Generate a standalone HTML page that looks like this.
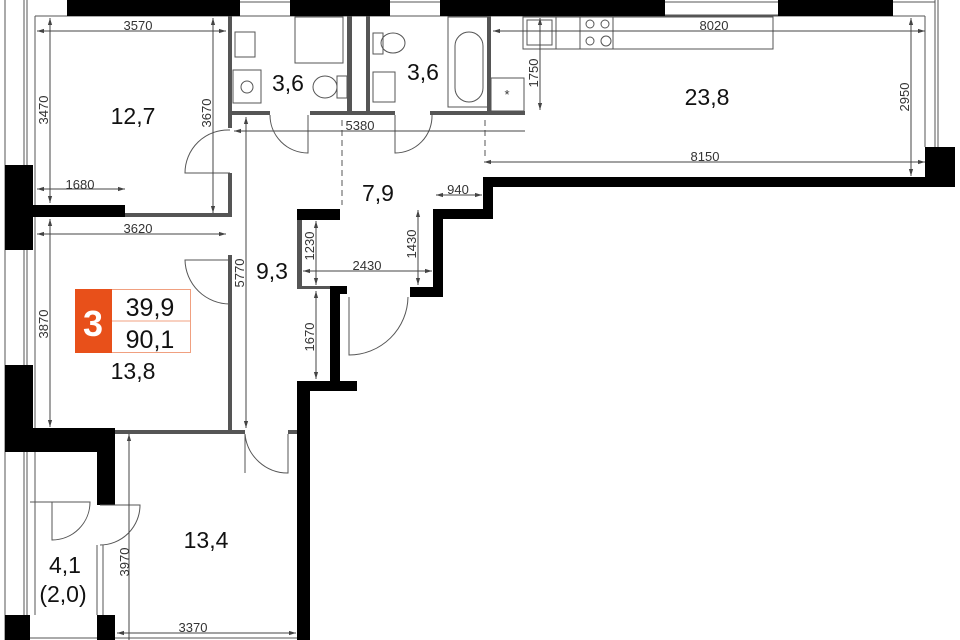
<!DOCTYPE html>
<html><head><meta charset="utf-8"><style>
html,body{margin:0;padding:0;background:#fff;width:960px;height:640px;overflow:hidden}
svg{display:block}
.d{font-family:"Liberation Sans",sans-serif;font-size:13px;fill:#333}
.r{font-family:"Liberation Sans",sans-serif;font-size:23px;fill:#111}
.dl{stroke:#444;stroke-width:1;fill:none}
.t{stroke:#555;stroke-width:1;fill:none}
</style></head><body>
<svg width="960" height="640" viewBox="0 0 960 640" xmlns="http://www.w3.org/2000/svg">
<defs>
<marker id="a" viewBox="0 0 10 10" refX="10" refY="5" markerWidth="7" markerHeight="7" orient="auto-start-reverse"><path d="M0,2L10,5L0,8z" fill="#444"/></marker>
</defs>
<g class="t">
<line x1="5" y1="0" x2="5" y2="640"/><line x1="24" y1="0" x2="24" y2="640"/><line x1="27" y1="0" x2="27" y2="640"/>
<line x1="35" y1="16" x2="35" y2="205"/><line x1="35" y1="217" x2="35" y2="428"/>
<line x1="240" y1="2" x2="290" y2="2"/><line x1="390" y1="2" x2="440" y2="2"/>
<line x1="665" y1="2" x2="778" y2="2"/><line x1="665" y1="15" x2="778" y2="15"/>
<line x1="893" y1="2" x2="935" y2="2"/>
<line x1="35" y1="16" x2="925" y2="16"/>
<line x1="925" y1="16" x2="925" y2="147"/><line x1="935" y1="0" x2="935" y2="147"/><line x1="938" y1="0" x2="938" y2="147"/>
<line x1="35" y1="452" x2="35" y2="615"/><line x1="27" y1="452" x2="27" y2="615"/>
<line x1="97" y1="545" x2="97" y2="615"/><line x1="103" y1="545" x2="103" y2="615"/>
<line x1="5" y1="638" x2="300" y2="638"/>
</g>
<g fill="#000">
<rect x="67" y="0" width="173" height="16"/>
<rect x="290" y="0" width="100" height="16"/>
<rect x="440" y="0" width="225" height="16"/>
<rect x="778" y="0" width="115" height="16"/>
<rect x="5" y="165" width="28" height="85"/>
<rect x="5" y="205" width="120" height="12"/>
<rect x="5" y="365" width="28" height="87"/>
<rect x="5" y="428" width="110" height="24"/>
<rect x="97" y="428" width="18" height="77"/>
<rect x="5" y="615" width="25" height="25"/>
<rect x="97" y="615" width="18" height="25"/>
<rect x="925" y="147" width="30" height="40"/>
<rect x="485" y="177" width="470" height="10"/>
<rect x="483" y="177" width="10" height="42"/>
<rect x="433" y="209" width="60" height="10"/>
<rect x="433" y="209" width="10" height="88"/>
<rect x="410" y="287" width="33" height="10"/>
<rect x="297" y="209" width="43" height="11"/>
<rect x="330" y="286" width="17" height="8"/>
<rect x="330" y="286" width="10" height="97"/>
<rect x="297" y="381" width="60" height="10"/>
<rect x="297" y="381" width="13" height="259"/>
</g>
<g fill="#555">
<rect x="228" y="16" width="4" height="112"/>
<rect x="228" y="173" width="4" height="44"/>
<rect x="228" y="255" width="4" height="177"/>
<rect x="125" y="213" width="107" height="4"/>
<rect x="115" y="430" width="130" height="4"/>
<rect x="288" y="430" width="9" height="4"/>
<rect x="232" y="111" width="38" height="4"/>
<rect x="310" y="111" width="85" height="4"/>
<rect x="430" y="111" width="95" height="4"/>
<rect x="347" y="16" width="5" height="95"/>
<rect x="366" y="16" width="4" height="95"/>
<rect x="297" y="220" width="5" height="69"/>
<rect x="297" y="286" width="33" height="3"/>
<rect x="487" y="16" width="4" height="95"/>
</g>
<g class="t">
<path d="M230,130 A43,43 0 0 0 185,173 L230,173"/>
<path d="M230,304 A45,45 0 0 1 185,260 L230,260"/>
<path d="M270,115 A38,38 0 0 0 308,153 L308,115"/>
<path d="M395,115 L395,153 A37,37 0 0 0 432,115"/>
<path d="M245,434 L245,473 M288,434 L288,473 A43,43 0 0 1 245,434"/>
<path d="M349,297 L349,355 A59,59 0 0 0 408,297"/>
<path d="M52,502 L52,540 A38,38 0 0 0 90,502 L30,502"/>
<path d="M100,505 L140,505 A40,40 0 0 1 100,545"/>
<line x1="342" y1="120" x2="342" y2="205" stroke-dasharray="6,4"/>
<line x1="485" y1="120" x2="485" y2="160" stroke-dasharray="6,4"/>
<rect x="235" y="32" width="20" height="25"/><rect x="233" y="70" width="28" height="33"/><circle cx="247" cy="87" r="6"/>
<rect x="295" y="17" width="48" height="46"/>
<ellipse cx="325" cy="87" rx="12" ry="11"/><rect x="337" y="76" width="10" height="22"/>
<ellipse cx="393" cy="43" rx="12" ry="10"/><rect x="373" y="33" width="10" height="21"/>
<rect x="373" y="72" width="22" height="30"/>
<rect x="448" y="17" width="40" height="90"/><rect x="455" y="32" width="28" height="70" rx="14"/>
<rect x="523" y="17" width="250" height="32"/>
<line x1="556" y1="17" x2="556" y2="49"/><line x1="580" y1="17" x2="580" y2="49"/><line x1="613" y1="17" x2="613" y2="49"/>
<rect x="527" y="20" width="25" height="25"/>
<circle cx="590" cy="24" r="4"/><circle cx="605" cy="24" r="4"/><circle cx="590" cy="41" r="4"/><circle cx="606" cy="41" r="5"/>
<rect x="491" y="78" width="33" height="33"/>
</g>
<text x="507" y="99" class="d" text-anchor="middle">*</text>
<g class="dl">
<line x1="37" y1="31" x2="226" y2="31" marker-start="url(#a)" marker-end="url(#a)"/>
<line x1="50" y1="18" x2="50" y2="203" marker-start="url(#a)" marker-end="url(#a)"/>
<line x1="37" y1="189" x2="125" y2="189" marker-start="url(#a)" marker-end="url(#a)"/>
<line x1="213" y1="18" x2="213" y2="213" marker-start="url(#a)" marker-end="url(#a)"/>
<line x1="37" y1="234" x2="226" y2="234" marker-start="url(#a)" marker-end="url(#a)"/>
<line x1="50" y1="219" x2="50" y2="427" marker-start="url(#a)" marker-end="url(#a)"/>
<line x1="246" y1="117" x2="246" y2="428" marker-start="url(#a)" marker-end="url(#a)"/>
<line x1="234" y1="131" x2="525" y2="131" marker-start="url(#a)"/>
<line x1="493" y1="31" x2="925" y2="31" marker-start="url(#a)" marker-end="url(#a)"/>
<line x1="540" y1="18" x2="540" y2="110" marker-start="url(#a)" marker-end="url(#a)"/>
<line x1="911" y1="18" x2="911" y2="176" marker-start="url(#a)" marker-end="url(#a)"/>
<line x1="484" y1="162" x2="925" y2="162" marker-start="url(#a)" marker-end="url(#a)"/>
<line x1="436" y1="195" x2="482" y2="195" marker-start="url(#a)" marker-end="url(#a)"/>
<line x1="316" y1="221" x2="316" y2="285" marker-start="url(#a)" marker-end="url(#a)"/>
<line x1="418" y1="210" x2="418" y2="285" marker-start="url(#a)" marker-end="url(#a)"/>
<line x1="303" y1="271" x2="432" y2="271" marker-start="url(#a)" marker-end="url(#a)"/>
<line x1="316" y1="291" x2="316" y2="379" marker-start="url(#a)" marker-end="url(#a)"/>
<line x1="129" y1="434" x2="129" y2="640" marker-start="url(#a)"/>
<line x1="117" y1="633" x2="296" y2="633" marker-start="url(#a)" marker-end="url(#a)"/>
</g>
<g class="d">
<text x="138" y="30" text-anchor="middle">3570</text>
<text x="80" y="189" text-anchor="middle">1680</text>
<text x="138" y="233" text-anchor="middle">3620</text>
<text x="360" y="130" text-anchor="middle">5380</text>
<text x="714" y="30" text-anchor="middle">8020</text>
<text x="705" y="161" text-anchor="middle">8150</text>
<text x="458" y="194" text-anchor="middle">940</text>
<text x="367" y="270" text-anchor="middle">2430</text>
<text x="193" y="632" text-anchor="middle">3370</text>
<text transform="translate(48,110) rotate(-90)" text-anchor="middle">3470</text>
<text transform="translate(211,113) rotate(-90)" text-anchor="middle">3670</text>
<text transform="translate(48,324) rotate(-90)" text-anchor="middle">3870</text>
<text transform="translate(244,273) rotate(-90)" text-anchor="middle">5770</text>
<text transform="translate(538,73) rotate(-90)" text-anchor="middle">1750</text>
<text transform="translate(909,97) rotate(-90)" text-anchor="middle">2950</text>
<text transform="translate(314,246) rotate(-90)" text-anchor="middle">1230</text>
<text transform="translate(416,244) rotate(-90)" text-anchor="middle">1430</text>
<text transform="translate(314,337) rotate(-90)" text-anchor="middle">1670</text>
<text transform="translate(129,562) rotate(-90)" text-anchor="middle">3970</text>
</g>
<g class="r" text-anchor="middle">
<text x="133" y="124">12,7</text>
<text x="288" y="91">3,6</text>
<text x="423" y="80">3,6</text>
<text x="707" y="105">23,8</text>
<text x="378" y="201">7,9</text>
<text x="272" y="279">9,3</text>
<text x="133" y="379">13,8</text>
<text x="206" y="548">13,4</text>
<text x="65" y="573">4,1</text>
<text x="63" y="602">(2,0)</text>
</g>
<rect x="75.5" y="289.5" width="115" height="63" fill="#fff" stroke="#f0a080"/>
<rect x="75" y="289" width="37" height="64" fill="#e8501a"/>
<line x1="112" y1="321" x2="190" y2="321" stroke="#f0a080"/>
<text x="93" y="336" text-anchor="middle" style="font-family:'Liberation Sans',sans-serif;font-size:36px;font-weight:bold;fill:#fff">3</text>
<text x="150" y="316" text-anchor="middle" style="font-family:'Liberation Sans',sans-serif;font-size:25px;fill:#111">39,9</text>
<text x="150" y="348" text-anchor="middle" style="font-family:'Liberation Sans',sans-serif;font-size:25px;fill:#111">90,1</text>
</svg>
</body></html>
